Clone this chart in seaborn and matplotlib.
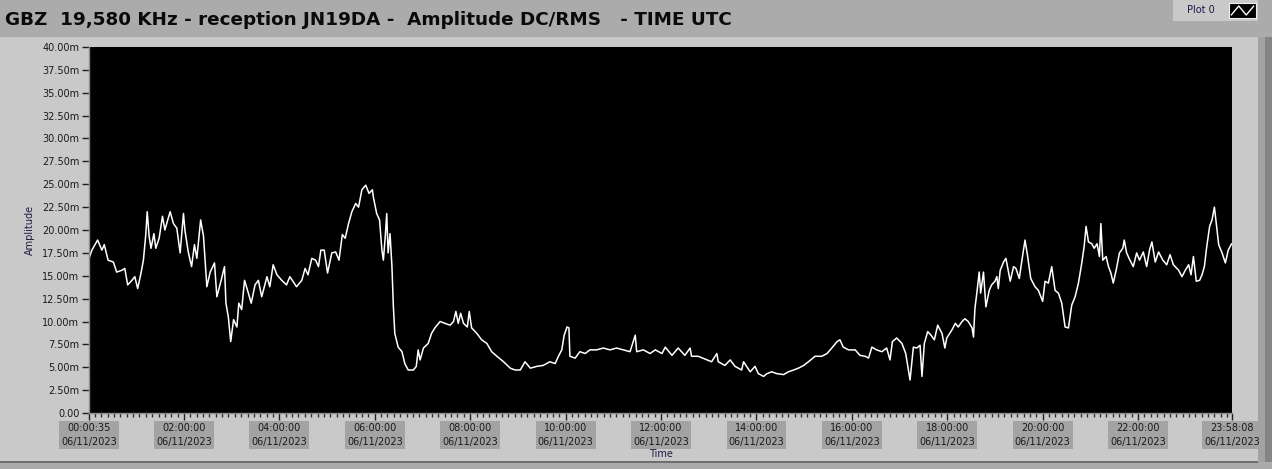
import numpy as np
import pandas as pd
import matplotlib
matplotlib.use("Agg")
import matplotlib.pyplot as plt
import matplotlib.dates as mdates
from matplotlib.patches import Rectangle
from matplotlib.ticker import FixedLocator, FuncFormatter
import seaborn as sns

sns.set_style("ticks")
plt.rcParams["font.family"] = ["DejaVu Sans"]

# hours after midnight, 06/11/2023 (UTC)
hours = [
    0.01, 0.07, 0.19, 0.28, 0.33, 0.41, 0.52, 0.59, 0.70, 0.76, 0.82, 0.91, 0.97,
    1.03, 1.10, 1.15, 1.20, 1.23, 1.27, 1.31, 1.37, 1.41, 1.48, 1.55, 1.60, 1.66,
    1.71, 1.78, 1.85, 1.92, 1.99, 2.02, 2.09, 2.16, 2.22, 2.27, 2.35, 2.41, 2.48,
    2.55, 2.64, 2.69, 2.78, 2.85, 2.88, 2.93, 2.98, 3.04, 3.11, 3.15, 3.21, 3.27,
    3.35, 3.41, 3.49, 3.56, 3.63, 3.74, 3.80, 3.87, 3.95, 4.05, 4.15, 4.22, 4.36,
    4.47, 4.54, 4.60, 4.68, 4.76, 4.82, 4.87, 4.94, 5.01, 5.10, 5.18, 5.25, 5.32,
    5.38, 5.45, 5.52, 5.60, 5.66, 5.73, 5.81, 5.88, 5.95, 5.97, 6.04, 6.10, 6.15,
    6.18, 6.22, 6.25, 6.28, 6.32, 6.36, 6.39, 6.42, 6.49, 6.57, 6.63, 6.70, 6.81,
    6.87, 6.91, 6.95, 7.02, 7.12, 7.19, 7.26, 7.37, 7.47, 7.58, 7.65, 7.70, 7.75,
    7.80, 7.86, 7.94, 7.98, 8.03, 8.14, 8.24, 8.35, 8.45, 8.56, 8.70, 8.84, 8.94,
    9.05, 9.15, 9.26, 9.40, 9.53, 9.67, 9.78, 9.85, 9.92, 9.97, 10.03, 10.07, 10.09,
    10.20, 10.30, 10.41, 10.51, 10.65, 10.79, 10.93, 11.07, 11.21, 11.35, 11.46,
    11.49, 11.63, 11.77, 11.88, 12.02, 12.09, 12.23, 12.36, 12.50, 12.61, 12.64,
    12.78, 12.92, 13.06, 13.17, 13.20, 13.34, 13.45, 13.55, 13.69, 13.73, 13.87,
    13.97, 14.04, 14.15, 14.22, 14.32, 14.43, 14.57, 14.67, 14.78, 14.88, 14.99,
    15.09, 15.23, 15.37, 15.48, 15.58, 15.69, 15.75, 15.82, 15.93, 16.07, 16.17,
    16.28, 16.35, 16.42, 16.52, 16.63, 16.73, 16.80, 16.85, 16.94, 17.05, 17.13,
    17.22, 17.29, 17.36, 17.43, 17.47, 17.52, 17.59, 17.66, 17.73, 17.80, 17.89,
    17.95, 17.99, 18.10, 18.17, 18.23, 18.31, 18.37, 18.44, 18.52, 18.55, 18.58,
    18.62, 18.67, 18.70, 18.76, 18.81, 18.88, 18.93, 19.00, 19.04, 19.07, 19.11,
    19.18, 19.23, 19.32, 19.39, 19.44, 19.51, 19.56, 19.63, 19.68, 19.75, 19.84,
    19.91, 20.00, 20.05, 20.12, 20.19, 20.26, 20.33, 20.40, 20.47, 20.54, 20.61,
    20.68, 20.75, 20.82, 20.87, 20.91, 20.96, 21.03, 21.08, 21.14, 21.19, 21.22,
    21.26, 21.33, 21.38, 21.43, 21.48, 21.54, 21.61, 21.68, 21.71, 21.76, 21.83,
    21.90, 21.97, 22.03, 22.11, 22.18, 22.24, 22.29, 22.36, 22.43, 22.52, 22.60,
    22.67, 22.74, 22.85, 22.92, 22.99, 23.06, 23.11, 23.16, 23.22, 23.29, 23.34,
    23.39, 23.44, 23.50, 23.55, 23.60, 23.64, 23.69, 23.76, 23.83, 23.89, 23.96,
]

# amplitude in mV
amplitude = [
    16.9, 17.8, 18.9, 17.8, 18.4, 16.7, 16.5, 15.4, 15.6, 15.8, 14.0, 14.5, 14.9,
    13.6, 15.3, 16.7, 19.5, 22.0, 19.3, 18.0, 19.6, 18.0, 19.1, 21.5, 20.0, 21.1,
    22.0, 20.7, 20.2, 17.5, 21.8, 20.0, 17.6, 16.0, 18.4, 16.9, 21.1, 19.3, 13.8,
    15.4, 16.4, 12.7, 14.5, 16.0, 12.0, 10.5, 7.8, 10.2, 9.4, 12.0, 11.3, 14.5,
    13.1, 12.0, 14.0, 14.5, 12.7, 14.9, 13.8, 16.2, 15.1, 14.5, 14.0, 14.9, 13.8,
    14.5, 15.8, 15.1, 16.9, 16.7, 16.0, 17.8, 17.8, 15.3, 17.5, 17.6, 16.7, 19.5,
    19.1, 20.7, 22.0, 22.9, 22.5, 24.4, 24.9, 24.0, 24.4, 23.6, 21.8, 21.1, 17.8,
    16.7, 19.3, 21.8, 17.5, 19.6, 16.0, 11.6, 8.7, 7.2, 6.7, 5.4, 4.7, 4.7,
    5.1, 6.9, 5.8, 7.1, 7.6, 8.7, 9.3, 10.0, 9.8, 9.6, 10.0, 11.1, 9.8,
    10.9, 9.8, 9.4, 11.1, 9.3, 8.7, 8.0, 7.6, 6.7, 6.2, 5.6, 4.9, 4.7,
    4.7, 5.6, 4.9, 5.1, 5.2, 5.6, 5.4, 6.2, 6.9, 8.5, 9.4, 9.3, 6.2,
    6.0, 6.7, 6.5, 6.9, 6.9, 7.1, 6.9, 7.1, 6.9, 6.7, 8.5,
    6.7, 6.9, 6.5, 6.9, 6.5, 7.2, 6.3, 7.1, 6.3, 7.1, 6.2,
    6.2, 5.9, 5.6, 6.5, 5.6, 5.2, 5.8, 5.1, 4.7, 5.6, 4.5,
    5.1, 4.3, 4.0, 4.3, 4.5, 4.3, 4.2, 4.5, 4.7, 4.9, 5.2,
    5.6, 6.2, 6.2, 6.5, 7.1, 7.8, 8.0, 7.2, 6.9, 6.9, 6.3,
    6.2, 6.0, 7.2, 6.9, 6.7, 7.1, 5.8, 7.8, 8.2, 7.6, 6.5,
    3.6, 7.2, 7.1, 7.4, 4.0, 7.6, 8.9, 8.5, 8.0, 9.6, 8.7,
    7.1, 8.2, 9.1, 9.8, 9.4, 10.0, 10.3, 10.0, 9.3, 8.3, 11.4,
    13.1, 15.4, 13.1, 15.4, 11.6, 13.4, 14.0, 14.4, 14.9, 13.6, 15.6,
    16.5, 16.9, 14.4, 16.0, 15.8, 14.7, 16.5, 18.9, 17.3, 14.7, 13.8,
    13.4, 12.2, 14.4, 14.2, 16.0, 13.4, 13.1, 12.0, 9.4, 9.3, 11.8,
    12.7, 14.2, 16.4, 18.2, 20.4, 18.7, 18.5, 18.0, 18.5, 17.1, 20.7,
    16.7, 17.1, 16.0, 15.3, 14.2, 15.6, 17.5, 18.0, 18.9, 17.5, 16.7,
    16.0, 17.5, 16.7, 17.6, 16.0, 17.8, 18.7, 16.5, 17.6, 16.7, 16.2,
    17.3, 16.2, 15.6, 14.9, 15.6, 16.2, 15.1, 17.1, 14.4, 14.5, 15.1,
    16.0, 18.2, 20.4, 21.1, 22.5, 20.7, 18.4, 17.5, 16.4, 17.8, 18.5,
]

y_ticks = np.arange(0, 40.01, 2.5)
day = pd.Timestamp("2023-11-06")
t_start = day + pd.Timedelta("00:00:35")
t_end = day + pd.Timedelta("23:58:08")

df = pd.DataFrame({
    "Time": day + pd.to_timedelta(hours, unit="h"),
    "Amplitude": amplitude,
})

fig = plt.figure(figsize=(12.72, 4.69), dpi=100)
fig.patch.set_facecolor("#ababab")


def panel(x, y, w, h, color):
    # rectangles in pixel units of the 1272x469 canvas, y from the top
    fig.patches.append(Rectangle((x / 1272, 1 - (y + h) / 469), w / 1272, h / 469,
                                 transform=fig.transFigure, facecolor=color,
                                 edgecolor="none", zorder=-10))


# LabVIEW-style front panel
panel(0, 37, 1258, 424, "#c9c9c9")
panel(0, 461, 1258, 1.5, "#6e6e6e")
panel(1258, 37, 7, 425, "#a2a2a2")
panel(1265, 37, 7, 425, "#858585")
panel(1173, 0, 85, 21, "#c9c9c9")

ax = fig.add_axes([89 / 1272, 56 / 469, 1143 / 1272, 366 / 469])
ax.set_facecolor("black")

sns.lineplot(data=df, x="Time", y="Amplitude", ax=ax, color="white",
             linewidth=1.1, estimator=None, sort=False)

ax.set_ylim(0, 40)
ax.set_xlim(t_start, t_end)
ax.set_yticks(y_ticks)
ax.yaxis.set_major_formatter(FuncFormatter(
    lambda v, p: "0.00" if v == 0 else f"{v:.2f}m"))

major = [t_start] + [day + pd.Timedelta(hours=h) for h in range(2, 24, 2)] + [t_end]
ax.xaxis.set_major_locator(FixedLocator(mdates.date2num(major)))
ax.xaxis.set_major_formatter(mdates.DateFormatter("%H:%M:%S\n%d/%m/%Y"))
minor = pd.date_range(day, t_end, freq="8min")
minor = minor[minor >= t_start]
ax.xaxis.set_minor_locator(FixedLocator(mdates.date2num(minor)))

label_color = "#1c1c44"
ax.tick_params(axis="both", which="major", labelsize=7, colors="#202020",
               labelcolor="#1a1a1a", length=5, width=1, direction="out")
ax.tick_params(axis="x", which="minor", length=3, width=1, color="#303030")
ax.tick_params(axis="x", pad=2)
ax.tick_params(axis="y", pad=2)
for tick in ax.xaxis.get_major_ticks():
    tick.label1.set_bbox(dict(facecolor="#a3a3a3", edgecolor="none", pad=1.5))
    tick.label1.set_linespacing(1.55)

for side in ["top", "right"]:
    ax.spines[side].set_visible(False)
for side in ["left", "bottom"]:
    ax.spines[side].set_color("#8c8c8c")
    ax.spines[side].set_linewidth(1)

ax.set_ylabel("Amplitude", fontsize=7, color=label_color)
ax.set_xlabel("Time", fontsize=7, color=label_color, labelpad=1)
ax.yaxis.set_label_coords(-54 / 1143, 0.5)

fig.text(5 / 1272, 1 - 20 / 469,
         "GBZ  19,580 KHz - reception JN19DA -  Amplitude DC/RMS   - TIME UTC",
         fontsize=13.2, fontweight="bold", color="#0a0a0a", va="center",
         ha="left")

# legend "Plot 0"
fig.text(1201 / 1272, 1 - 10 / 469, "Plot 0", fontsize=7, color=label_color,
         va="center", ha="center")
lax = fig.add_axes([1229 / 1272, 1 - 18 / 469, 27 / 1272, 15 / 469])
lax.set_facecolor("black")
lax.plot([0, 1, 2, 3], [0.2, 0.8, 0.2, 0.8], color="white", linewidth=1)
lax.set_xlim(-0.3, 3.3)
lax.set_ylim(0, 1)
lax.set_xticks([])
lax.set_yticks([])
for s in lax.spines.values():
    s.set_color("#eeeeee")
    s.set_linewidth(0.8)

fig.savefig("out.png", dpi=100, facecolor=fig.get_facecolor())
